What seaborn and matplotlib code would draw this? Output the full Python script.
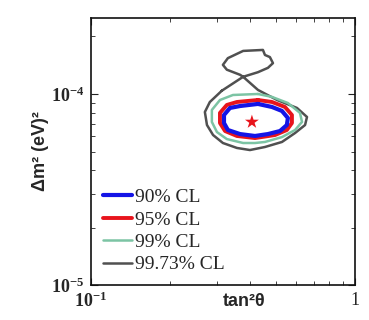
import numpy as np
import pandas as pd
import matplotlib
matplotlib.use("Agg")
import matplotlib.pyplot as plt
from matplotlib.ticker import FixedLocator, FixedFormatter, LogLocator, NullFormatter
import seaborn as sns

# contour outlines (tan^2 theta, delta m^2 in eV^2)
cl90_x = [0.429, 0.485, 0.529, 0.557, 0.552, 0.520, 0.468, 0.418, 0.367, 0.330, 0.319, 0.319, 0.336, 0.367]
cl90_y = [8.87e-5, 8.55e-5, 8.15e-5, 7.49e-5, 6.88e-5, 6.40e-5, 6.17e-5, 6.03e-5, 6.17e-5, 6.48e-5,
          7.05e-5, 7.76e-5, 8.45e-5, 8.65e-5]

cl95_x = [0.429, 0.485, 0.543, 0.577, 0.577, 0.552, 0.498, 0.418, 0.357, 0.322, 0.308, 0.308, 0.327, 0.357]
cl95_y = [9.30e-5, 9.08e-5, 8.55e-5, 7.76e-5, 7.05e-5, 6.48e-5, 6.10e-5, 5.88e-5, 6.03e-5, 6.40e-5,
          7.05e-5, 7.96e-5, 8.76e-5, 9.08e-5]

cl99_x = [0.429, 0.485, 0.557, 0.619, 0.630, 0.593, 0.529, 0.456, 0.418, 0.377, 0.327, 0.300,
          0.287, 0.287, 0.308, 0.345]
cl99_y = [1.0e-4, 9.65e-5, 8.97e-5, 7.96e-5, 7.14e-5, 6.48e-5, 5.95e-5, 5.61e-5, 5.54e-5, 5.54e-5,
          5.81e-5, 6.32e-5, 7.14e-5, 8.25e-5, 9.30e-5, 9.88e-5]

cl9973_x = [0.313, 0.377, 0.429, 0.468, 0.489, 0.476, 0.456, 0.448, 0.377, 0.330, 0.316, 0.327,
            0.367, 0.377, 0.429, 0.507, 0.603, 0.658, 0.647, 0.593, 0.529, 0.456, 0.400, 0.357,
            0.316, 0.290, 0.275, 0.270, 0.282]
cl9973_y = [1.04e-4, 1.23e-4, 1.30e-4, 1.37e-4, 1.45e-4, 1.56e-4, 1.60e-4, 1.70e-4, 1.68e-4,
            1.54e-4, 1.42e-4, 1.34e-4, 1.26e-4, 1.23e-4, 1.05e-4, 9.30e-5, 8.45e-5, 7.58e-5,
            6.88e-5, 6.25e-5, 5.61e-5, 5.28e-5, 5.09e-5, 5.22e-5, 5.54e-5, 6.10e-5, 6.88e-5,
            8.05e-5, 9.08e-5]

best_fit_x = [0.407]
best_fit_y = [7.14e-5]

labels = ["90% CL", "95% CL", "99% CL", "99.73% CL"]
colors = ["#1414e6", "#e8141c", "#7cc4a4", "#505050"]
widths = [3.0, 2.8, 1.8, 1.8]

x_ticks = [0.1, 1.0]
x_ticklabels = [r"$\mathbf{10^{-1}}$", "1"]
y_ticks = [1e-5, 1e-4]
y_ticklabels = [r"$\mathbf{10^{-5}}$", r"$\mathbf{10^{-4}}$"]

sns.set_style("ticks")
plt.rcParams["font.family"] = ["Liberation Serif", "DejaVu Serif"]
plt.rcParams["mathtext.fontset"] = "custom"
plt.rcParams["mathtext.rm"] = "Liberation Serif"
plt.rcParams["mathtext.bf"] = "Liberation Serif:bold"

fig = plt.figure(figsize=(3.69, 3.2), dpi=100)
ax = fig.add_axes([0.2466, 0.109, 0.7154, 0.835])
ax.set_xscale("log")
ax.set_yscale("log")

contours = [(cl90_x, cl90_y), (cl95_x, cl95_y), (cl99_x, cl99_y), (cl9973_x, cl9973_y)]
# draw widest contour first so the inner ones sit on top
for i in [3, 2, 1, 0]:
    xs, ys = contours[i]
    df = pd.DataFrame({"x": xs + xs[:1], "y": ys + ys[:1]})
    sns.lineplot(data=df, x="x", y="y", sort=False, estimator=None, ax=ax,
                 color=colors[i], linewidth=widths[i], label=labels[i],
                 solid_joinstyle="round")

sns.scatterplot(x=best_fit_x, y=best_fit_y, marker="*", s=110, color="#e8141c",
                edgecolor="none", ax=ax, zorder=5)

ax.set_xlim(0.1, 1.0)
ax.set_ylim(1e-5, 2.5e-4)
ax.xaxis.set_major_locator(FixedLocator(x_ticks))
ax.xaxis.set_major_formatter(FixedFormatter(x_ticklabels))
ax.yaxis.set_major_locator(FixedLocator(y_ticks))
ax.yaxis.set_major_formatter(FixedFormatter(y_ticklabels))
ax.xaxis.set_minor_locator(LogLocator(base=10, subs=np.arange(2, 10)))
ax.yaxis.set_minor_locator(LogLocator(base=10, subs=np.arange(2, 10)))
ax.xaxis.set_minor_formatter(NullFormatter())
ax.yaxis.set_minor_formatter(NullFormatter())
ax.tick_params(which="both", direction="in", top=True, right=True, labelsize=13, color="#222222")
ax.tick_params(which="major", length=5, pad=5)
ax.tick_params(which="minor", length=3)
for s in ax.spines.values():
    s.set_linewidth(1.2)
    s.set_color("#111111")

ax.set_xlabel("tan²θ", fontsize=13, fontweight="bold", family="Liberation Sans")
ax.set_ylabel("Δm² (eV)²", fontsize=13, fontweight="bold", family="Liberation Sans")
ax.xaxis.set_label_coords(0.58, -0.03)
ax.yaxis.set_label_coords(-0.16, 0.5)

handles, lbls = ax.get_legend_handles_labels()
order = [lbls.index(l) for l in labels]
ax.legend([handles[k] for k in order], labels, loc="lower left", frameon=False,
          fontsize=14, handlelength=1.5, handletextpad=0.15, labelspacing=0.25,
          borderaxespad=0.2, bbox_to_anchor=(0.0, 0.0))

fig.savefig("out.png", dpi=100)
